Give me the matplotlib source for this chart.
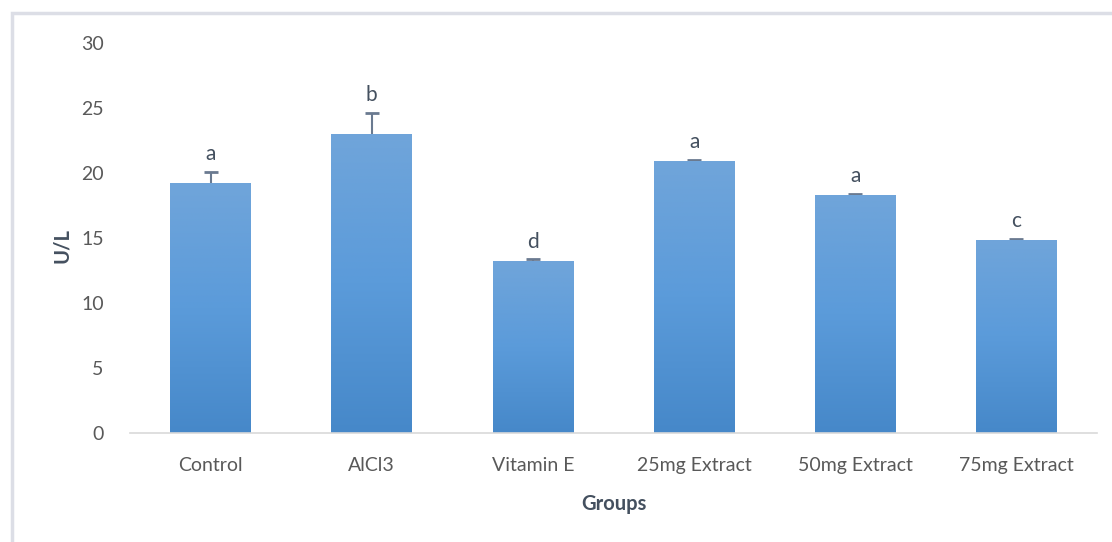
import numpy as np
import matplotlib.pyplot as plt
from matplotlib.patches import Rectangle
from matplotlib.colors import LinearSegmentedColormap

# Data
groups = ['Control', 'AlCl3', 'Vitamin E', '25mg Extract', '50mg Extract', '75mg Extract']
means = [19.2, 23.0, 13.2, 20.9, 18.3, 14.85]
errors = [0.9, 1.6, 0.15, 0.1, 0.1, 0.1]
letters = ['a', 'b', 'd', 'a', 'a', 'c']

plt.rcParams['font.family'] = ['Lato', 'DejaVu Sans']

fig = plt.figure(figsize=(11.12, 5.42), dpi=100)
ax = fig.add_axes([130 / 1112, 109 / 542, 967 / 1112, 390 / 542])

# outer frame (light gray, top and left visible)
fig.patches.append(Rectangle((12 / 1112, -0.1), 1.2, 1 - 13 / 542 + 0.1,
                             transform=fig.transFigure, fill=False,
                             edgecolor='#dcdee6', linewidth=2.5))

x = np.arange(len(groups))
width = 0.5

# error bars sit behind the bars so only the upper half shows
ax.errorbar(x, means, yerr=errors, fmt='none',
            ecolor='#6a7a90', elinewidth=1.5, capsize=5, capthick=2, zorder=1)

bars = ax.bar(x, means, width=width, color='none', edgecolor='none', zorder=2)

# vertical gradient inside each bar
cmap = LinearSegmentedColormap.from_list('barfill', ['#4688c9', '#5b9bda', '#70a5da'])
grad = np.linspace(0, 1, 256).reshape(-1, 1)
for b in bars:
    x0, y0 = b.get_x(), b.get_y()
    w, h = b.get_width(), b.get_height()
    im = ax.imshow(grad, cmap=cmap, aspect='auto', origin='lower',
                   extent=[x0, x0 + w, y0, y0 + h], zorder=2)
    im.set_clip_path(b)

for xi, m, e, lab in zip(x, means, errors, letters):
    ax.text(xi, m + e + 0.6, lab, ha='center', va='bottom',
            fontsize=15, color='#44505f')

ax.set_xlim(-0.5, len(groups) - 0.5)
ax.set_ylim(0, 30)
ax.set_yticks(range(0, 31, 5))
ax.set_xticks(x)
ax.set_xticklabels(groups)
ax.tick_params(axis='both', length=0, labelsize=14, colors='#595959')
ax.tick_params(axis='y', pad=19)
ax.tick_params(axis='x', pad=17)

for side in ['top', 'right', 'left']:
    ax.spines[side].set_visible(False)
ax.spines['bottom'].set_color('#d9d9d9')
ax.spines['bottom'].set_linewidth(1.2)

ax.set_xlabel('Groups', fontsize=14.5, fontweight='bold', color='#44505f', labelpad=15)
ax.set_ylabel('U/L', fontsize=14.5, fontweight='bold', color='#44505f')
ax.yaxis.set_label_coords(-0.06, 0.48)

fig.savefig('out.png', dpi=100)
